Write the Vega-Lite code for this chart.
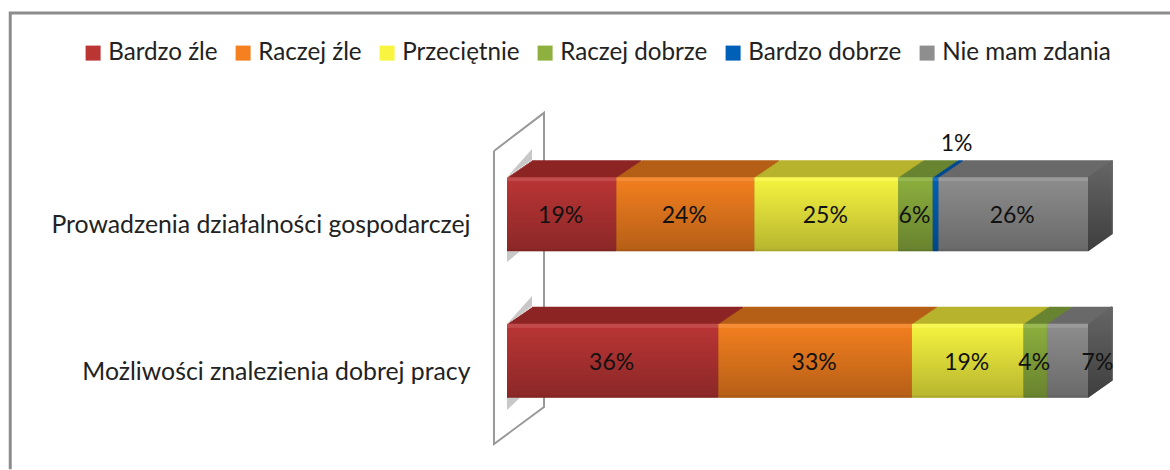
{"$schema":"https://vega.github.io/schema/vega-lite/v6.json","width":581,"height":293,"autosize":"none","padding":{"left":507,"right":82,"top":141,"bottom":36},"background":"white","config":{"view":{"stroke":null},"font":"Lato"},
"datasets":{"rows":[
{"cat":"Prowadzenia działalności gospodarczej","series":"Bardzo źle","n":1,"v":0.19},
{"cat":"Prowadzenia działalności gospodarczej","series":"Raczej źle","n":2,"v":0.24},
{"cat":"Prowadzenia działalności gospodarczej","series":"Przeciętnie","n":3,"v":0.25},
{"cat":"Prowadzenia działalności gospodarczej","series":"Raczej dobrze","n":4,"v":0.06},
{"cat":"Prowadzenia działalności gospodarczej","series":"Bardzo dobrze","n":5,"v":0.01},
{"cat":"Prowadzenia działalności gospodarczej","series":"Nie mam zdania","n":6,"v":0.26},
{"cat":"Możliwości znalezienia dobrej pracy","series":"Bardzo źle","n":1,"v":0.36},
{"cat":"Możliwości znalezienia dobrej pracy","series":"Raczej źle","n":2,"v":0.33},
{"cat":"Możliwości znalezienia dobrej pracy","series":"Przeciętnie","n":3,"v":0.19},
{"cat":"Możliwości znalezienia dobrej pracy","series":"Raczej dobrze","n":4,"v":0.04},
{"cat":"Możliwości znalezienia dobrej pracy","series":"Nie mam zdania","n":6,"v":0.07}],
"shapes":[
{"part":"frame","i":1,"x":-0.855,"y":-0.12},{"part":"frame","i":2,"x":-0.855,"y":1.437},{"part":"frame","i":3,"x":1.142,"y":1.437},
{"part":"wall","i":1,"x":-0.0224,"y":0.966},{"part":"wall","i":2,"x":0.0637,"y":1.096},{"part":"wall","i":3,"x":0.0637,"y":0.092},{"part":"wall","i":4,"x":-0.0224,"y":-0.034},{"part":"wall","i":5,"x":-0.0224,"y":0.966},
{"part":"s1","i":1,"x":0,"y":0.877},{"part":"s1","i":2,"x":0.043,"y":0.973},{"part":"s1","i":3,"x":0.043,"y":0.935},
{"part":"s2","i":1,"x":0,"y":0.375},{"part":"s2","i":2,"x":0.043,"y":0.471},{"part":"s2","i":3,"x":0.043,"y":0.437},
{"part":"s3","i":1,"x":0,"y":0.623},{"part":"s3","i":2,"x":0.022,"y":0.623},{"part":"s3","i":3,"x":0,"y":0.587},
{"part":"s4","i":1,"x":0,"y":0.123},{"part":"s4","i":2,"x":0.022,"y":0.123},{"part":"s4","i":3,"x":0,"y":0.082},
{"part":"side1","i":1,"x":1,"y":0.877},{"part":"side1","i":2,"x":1.041,"y":0.935},{"part":"side1","i":3,"x":1.041,"y":0.681},{"part":"side1","i":4,"x":1,"y":0.623},
{"part":"side2","i":1,"x":1,"y":0.375},{"part":"side2","i":2,"x":1.041,"y":0.437},{"part":"side2","i":3,"x":1.041,"y":0.181},{"part":"side2","i":4,"x":1,"y":0.123}]},
"resolve":{"scale":{"color":"independent","y":"independent"}},
"layer":[
{"data":{"name":"shapes"},"encoding":{"x":{"field":"x","type":"quantitative","axis":null,"scale":{"domain":[0,1],"nice":false,"zero":false}},"y":{"field":"y","type":"quantitative","axis":null,"scale":{"domain":[0,1],"nice":false,"zero":false}},"order":{"field":"i"},"detail":{"field":"part"}},
"layer":[
{"transform":[{"filter":"datum.part=='frame'"}],"mark":{"type":"line","stroke":"#8c8c8c","strokeWidth":3,"clip":false}},
{"transform":[{"filter":"datum.part=='wall'"}],"mark":{"type":"line","stroke":"#999999","strokeWidth":2,"clip":false}},
{"transform":[{"filter":"test(/^s[0-9]/,datum.part)"}],"mark":{"type":"line","fill":"#9a9a9a","fillOpacity":0.55,"strokeWidth":0,"clip":false}}
]},
{"data":{"name":"rows"},"transform":[{"stack":"v","groupby":["cat"],"sort":[{"field":"n","order":"ascending"}],"offset":"normalize","as":["x0","x1"]}],
"encoding":{"x":{"field":"x0","type":"quantitative","axis":null,"scale":{"domain":[0,1],"nice":false,"zero":false}},"x2":{"field":"x1"},"y":{"field":"cat","type":"nominal","axis":null,"sort":["Prowadzenia działalności gospodarczej","Możliwości znalezienia dobrej pracy"],"scale":{"paddingInner":0,"paddingOuter":0}},"color":{"field":"series","type":"nominal","legend":null,"scale":{"domain":["Bardzo źle","Raczej źle","Przeciętnie","Raczej dobrze","Bardzo dobrze","Nie mam zdania"],"range":["#8c2525","#b55f16","#b8b32d","#6a8530","#004a90","#6a6a6a"]}}},
"layer":[
{"mark":{"type":"bar","size":74,"xOffset":25,"x2Offset":25,"yOffset":-17}},
{"mark":{"type":"bar","size":74,"xOffset":23.5,"x2Offset":23.5,"yOffset":-16}},
{"mark":{"type":"bar","size":74,"xOffset":22,"x2Offset":22,"yOffset":-15}},
{"mark":{"type":"bar","size":74,"xOffset":20.6,"x2Offset":20.6,"yOffset":-14}},
{"mark":{"type":"bar","size":74,"xOffset":19.1,"x2Offset":19.1,"yOffset":-13}},
{"mark":{"type":"bar","size":74,"xOffset":17.6,"x2Offset":17.6,"yOffset":-12}},
{"mark":{"type":"bar","size":74,"xOffset":16.2,"x2Offset":16.2,"yOffset":-11}},
{"mark":{"type":"bar","size":74,"xOffset":14.7,"x2Offset":14.7,"yOffset":-10}},
{"mark":{"type":"bar","size":74,"xOffset":13.2,"x2Offset":13.2,"yOffset":-9}},
{"mark":{"type":"bar","size":74,"xOffset":11.8,"x2Offset":11.8,"yOffset":-8}},
{"mark":{"type":"bar","size":74,"xOffset":10.3,"x2Offset":10.3,"yOffset":-7}},
{"mark":{"type":"bar","size":74,"xOffset":8.8,"x2Offset":8.8,"yOffset":-6}},
{"mark":{"type":"bar","size":74,"xOffset":7.4,"x2Offset":7.4,"yOffset":-5}},
{"mark":{"type":"bar","size":74,"xOffset":5.9,"x2Offset":5.9,"yOffset":-4}},
{"mark":{"type":"bar","size":74,"xOffset":4.4,"x2Offset":4.4,"yOffset":-3}},
{"mark":{"type":"bar","size":74,"xOffset":2.9,"x2Offset":2.9,"yOffset":-2}},
{"mark":{"type":"bar","size":74,"xOffset":1.5,"x2Offset":1.5,"yOffset":-1}}
]},
{"data":{"name":"shapes"},"transform":[{"filter":"test(/^side/,datum.part)"}],"encoding":{"x":{"field":"x","type":"quantitative","axis":null,"scale":{"domain":[0,1],"nice":false,"zero":false}},"y":{"field":"y","type":"quantitative","axis":null,"scale":{"domain":[0,1],"nice":false,"zero":false}},"order":{"field":"i"},"detail":{"field":"part"}},
"mark":{"type":"line","strokeWidth":0,"clip":false,"fill":{"gradient":"linear","x1":0,"x2":0,"y1":0,"y2":1,"stops":[{"offset":0,"color":"#666666"},{"offset":1,"color":"#3e3e3e"}]}}},
{"data":{"name":"rows"},
"encoding":{"y":{"field":"cat","type":"nominal","title":null,"sort":["Prowadzenia działalności gospodarczej","Możliwości znalezienia dobrej pracy"],"scale":{"paddingInner":0,"paddingOuter":0},"axis":{"domain":false,"ticks":false,"labelPadding":37,"labelOffset":12,"labelFontSize":24.8,"labelColor":"#222222","labelLimit":500,"labelFont":"Lato"}}},
"layer":[
{"transform":[{"stack":"v","groupby":["cat"],"sort":[{"field":"n","order":"ascending"}],"offset":"normalize","as":["x0","x1"]}],"mark":{"type":"bar","size":74},"encoding":{"x":{"field":"x0","type":"quantitative","axis":null,"scale":{"domain":[0,1],"nice":false,"zero":false}},"x2":{"field":"x1"},"color":{"field":"series","type":"nominal","title":null,"scale":{"domain":["Bardzo źle","Raczej źle","Przeciętnie","Raczej dobrze","Bardzo dobrze","Nie mam zdania"],"range":["#bc3535","#f5801f","#f7f53f","#8db03e","#0060b8","#8e8e8e"]},"legend":{"orient":"none","legendX":-426,"legendY":-100,"direction":"horizontal","columns":6,"gridAlign":"none","symbolType":"square","symbolSize":225,"symbolStrokeWidth":0,"labelFontSize":24.2,"labelColor":"#222222","labelFont":"Lato","labelLimit":300,"columnPadding":13,"labelOffset":3,"padding":0}}}},
{"transform":[{"stack":"v","groupby":["cat"],"sort":[{"field":"n","order":"ascending"}],"offset":"normalize","as":["x0","x1"]}],"mark":{"type":"bar","size":74,"fill":{"gradient":"linear","x1":0,"x2":0,"y1":0,"y2":1,"stops":[{"offset":0,"color":"rgba(255,255,255,0.1)"},{"offset":0.05,"color":"rgba(255,255,255,0.1)"},{"offset":0.06,"color":"rgba(0,0,0,0.02)"},{"offset":0.96,"color":"rgba(0,0,0,0.25)"},{"offset":1,"color":"rgba(0,0,0,0.35)"}]}},"encoding":{"x":{"field":"x0","type":"quantitative","axis":null,"scale":{"domain":[0,1],"nice":false,"zero":false}},"x2":{"field":"x1"}}},
{"mark":{"type":"text","fontSize":23,"font":"Lato","color":"#111111","dx":-1,"dy":2},"encoding":{"x":{"field":"v","type":"quantitative","stack":"normalize","bandPosition":0.5,"axis":null,"scale":{"domain":[0,1],"nice":false,"zero":false}},"order":{"field":"n"},"detail":{"field":"series"},"text":{"condition":{"test":"datum.v!=0.01 && datum.v!=0.07","field":"v","type":"quantitative","format":".0%"},"value":""}}},
{"mark":{"type":"text","fontSize":23,"font":"Lato","color":"#111111","dx":21,"dy":-70},"encoding":{"x":{"field":"v","type":"quantitative","stack":"normalize","bandPosition":0.5,"axis":null,"scale":{"domain":[0,1],"nice":false,"zero":false}},"order":{"field":"n"},"detail":{"field":"series"},"text":{"condition":{"test":"datum.v==0.01","field":"v","type":"quantitative","format":".0%"},"value":""}}},
{"mark":{"type":"text","fontSize":23,"font":"Lato","color":"#111111","dx":30,"dy":2},"encoding":{"x":{"field":"v","type":"quantitative","stack":"normalize","bandPosition":0.5,"axis":null,"scale":{"domain":[0,1],"nice":false,"zero":false}},"order":{"field":"n"},"detail":{"field":"series"},"text":{"condition":{"test":"datum.v==0.07","field":"v","type":"quantitative","format":".0%"},"value":""}}}
]}
]}
